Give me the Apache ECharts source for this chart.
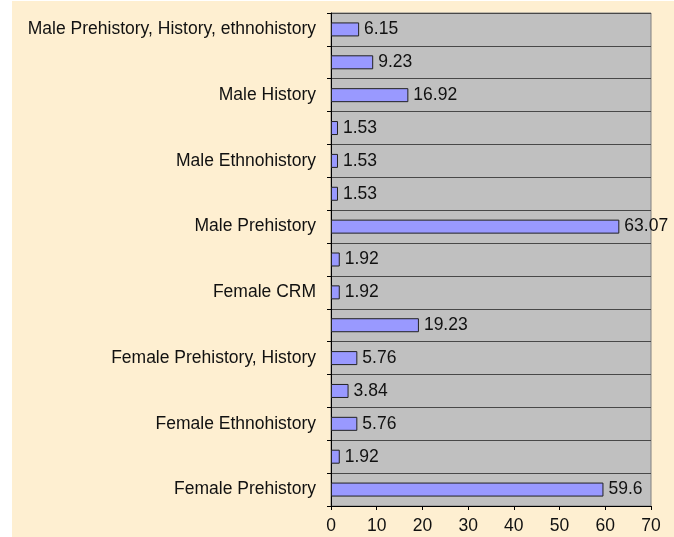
<!DOCTYPE html>
<html lang="en">
<head>
    <meta charset="UTF-8">
    <title>bar</title>
    <script src="https://cdn.jsdelivr.net/npm/echarts@6/dist/echarts.min.js"></script>
    <style>
        html, body {
            margin: 0;
            padding: 0;
            background: #fff;
        }
        #chart {
            position: absolute;
            left: 12px;
            top: 1px;
            width: 662px;
            height: 536px;
            background: #FEEFD1;
        }
    </style>
</head>
<body>
<div id="chart"></div>
<script>
    // bottom to top
    let categories = [
        'Female Prehistory', 'Female History',
        'Female Ethnohistory', 'Female Prehistory, Ethnohistory',
        'Female Prehistory, History', 'Female Historic Archaeology',
        'Female CRM', 'Female Other',
        'Male Prehistory', 'Male Prehistory, Ethnohistory',
        'Male Ethnohistory', 'Male CRM',
        'Male History', 'Male Prehistory, History',
        'Male Prehistory, History, ethnohistory'
    ];
    let values = [59.6, 1.92, 5.76, 3.84, 5.76, 19.23, 1.92, 1.92, 63.07, 1.53, 1.53, 1.53, 16.92, 9.23, 6.15];
    let xTicks = {min: 0, max: 70, step: 10};

    let myChart = echarts.init(document.getElementById('chart'));
    let font = 'Liberation Sans, Arial, sans-serif';
    let fs = 17.5;
    let option = {
        animation: false,
        grid: {
            left: 319,
            top: 12,
            width: 320,
            height: 493,
            show: true,
            backgroundColor: '#C0C0C0',
            borderColor: '#808080',
            borderWidth: 1
        },
        xAxis: {
            type: 'value',
            min: xTicks.min,
            max: xTicks.max,
            interval: xTicks.step,
            axisLine: {show: true, lineStyle: {color: '#000'}},
            axisTick: {show: true, length: 4, lineStyle: {color: '#000'}},
            splitLine: {show: false},
            axisLabel: {color: '#111', fontSize: fs, fontFamily: font, margin: 11}
        },
        yAxis: {
            type: 'category',
            data: categories,
            axisLine: {show: true, lineStyle: {color: '#000'}},
            axisTick: {show: true, length: 4, interval: 0, lineStyle: {color: '#000'}},
            splitLine: {show: true, interval: 0, lineStyle: {color: '#484848', width: 1}},
            axisLabel: {color: '#111', fontSize: fs, fontFamily: font, interval: 1, margin: 15}
        },
        series: [{
            type: 'bar',
            data: values,
            barWidth: 14,
            itemStyle: {color: '#9999FF', borderColor: '#222', borderWidth: 1},
            label: {
                show: true,
                position: 'right',
                distance: 5,
                color: '#111',
                fontSize: fs,
                fontFamily: font
            }
        }]
    };
    myChart.setOption(option);
</script>
</body>
</html>
